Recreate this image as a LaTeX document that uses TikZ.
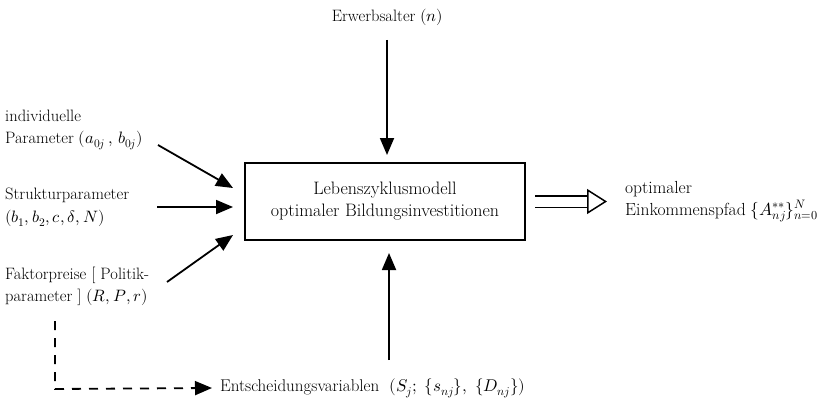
\documentclass[tikz,border=0pt]{standalone}
\usepackage{fontspec}
\usepackage{unicode-math}
\setmathfont{Latin Modern Math}
\usetikzlibrary{arrows.meta}
\begin{document}
\begin{tikzpicture}[x=1pt,y=-1pt,
  txt/.style={font=\fontsize{16.5}{22.5}\selectfont, inner sep=0pt, align=left},
  arrowtip/.style={-{Triangle[length=17pt,width=14pt]}},
  arr/.style={line width=1.8pt, arrowtip},
  model/.style={draw, line width=1.5pt, minimum width=280pt, minimum height=77pt, align=center, font=\fontsize{18}{22}\selectfont}]
\useasboundingbox (0,0) rectangle (829,404);
\node[model] (box) at (385,201.5) {Lebenszyklusmodell\\optimaler Bildungsinvestitionen};
\node[txt, anchor=center] (erw) at (387.5,17) {Erwerbsalter $(n)$};
\node[txt, anchor=west] (ind) at (5,130) {individuelle\\Parameter $(a_{0j}\,,\, b_{0j})$};
\node[txt, anchor=west] (str) at (5,207.5) {Strukturparameter\\$(b_1, b_2, c, \delta, N)$};
\node[txt, anchor=west] (fak) at (5,286.5) {Faktorpreise [ Politik-\\parameter ] $(R, P, r)$};
\node[txt, anchor=west, font=\fontsize{17.5}{22}\selectfont] (opt) at (625,201.5) {optimaler\\Einkommenspfad $\{A^{**}_{nj}\}^{N}_{n=0}$};
\node[txt, anchor=west, font=\fontsize{17}{22}\selectfont] (ent) at (220,388) {Entscheidungsvariablen\ \ $(S_j;\ \{s_{nj}\},\ \{D_{nj}\})$};
\coordinate (e1) at (387,40);
\coordinate (e2) at (387,155);
\coordinate (i1) at (158,145);
\coordinate (i2) at (233,188);
\coordinate (s1) at (157,207);
\coordinate (s2) at (233,207);
\coordinate (f1) at (167,282);
\coordinate (f2) at (233,235);
\coordinate (u1) at (389,360);
\coordinate (u2) at (389,253);
\coordinate (d1) at (55,321);
\coordinate (d2) at (55,389);
\coordinate (o1) at (535,201.5);
\coordinate (o2) at (607,201.5);
\draw[arr] (e1) -- (e2);
\draw[arr] (i1) -- (i2);
\draw[arr] (s1) -- (s2);
\draw[arr] (f1) -- (f2);
\draw[arr] (u1) -- (u2);
\draw[line width=1.8pt, dash pattern=on 9pt off 8pt, arrowtip] (d1) -- (d2) -- ([xshift=-8pt]ent.west);
\draw[line width=1.5pt, double distance=10pt, -{Triangle[open, length=20pt, width=25pt, line width=1.5pt]}] (o1) -- (o2);
\end{tikzpicture}
\end{document}
